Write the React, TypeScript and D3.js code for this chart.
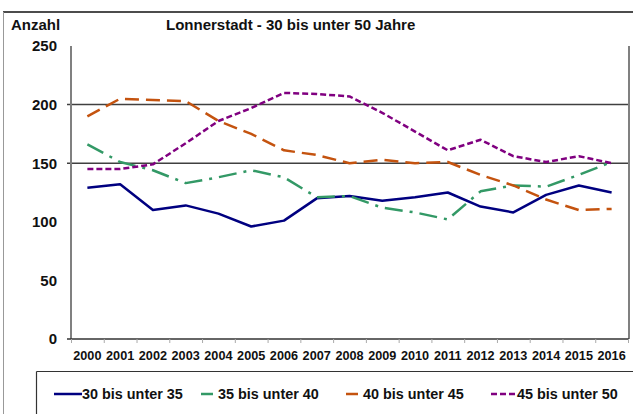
import React from "react";
import * as d3 from "d3";

const years = ["2000","2001","2002","2003","2004","2005","2006","2007","2008","2009","2010","2011","2012","2013","2014","2015","2016"];
const s30 = [129, 132, 110, 114, 107, 96, 101, 120, 122, 118, 121, 125, 113, 108, 123, 131, 125];
const s35 = [166, 151, 144, 133, 138, 144, 138, 121, 122, 112, 108, 102, 126, 131, 130, 140, 151];
const s40 = [190, 205, 204, 203, 186, 175, 161, 157, 150, 153, 150, 151, 140, 131, 119, 110, 111];
const s45 = [145, 145, 149, 167, 186, 197, 210, 209, 207, 193, 177, 161, 170, 156, 151, 156, 150];
const yTicks = [0, 50, 100, 150, 200, 250];
const gridValues = [150, 200];
const seriesNames = ["30 bis unter 35", "35 bis unter 40", "40 bis unter 45", "45 bis unter 50"];
const title = "Lonnerstadt - 30 bis unter 50 Jahre";
const yTitle = "Anzahl";

const W = 633, H = 414;
const FONT = "'Liberation Sans', Arial, Helvetica, sans-serif";

const styles = [
  { color: "#000080", dash: "none" },
  { color: "#339966", dash: "18,7,3,7" },
  { color: "#c4530f", dash: "14,7" },
  { color: "#800080", dash: "6,3" },
];
const legendLayout = [
  { x1: 54, x2: 82, tx: 82 },
  { x1: 201, x2: 213, tx: 218 },
  { x1: 346, x2: 358, tx: 363 },
  { x1: 491, x2: 516, tx: 517 },
];

export default function App() {
  const x = d3.scaleBand<string>().domain(years).range([71, 628]).padding(0);
  const y = d3.scaleLinear().domain([0, 250]).range([339, 46]);
  const cx = (yr: string) => (x(yr) as number) + x.bandwidth() / 2;
  const line = d3
    .line<number>()
    .x((_, i) => cx(years[i]))
    .y((v) => y(v));
  const all = [s30, s35, s40, s45];
  const boundaries = years.map((yr) => x(yr) as number).concat([628]);

  return (
    <svg width={W} height={H} style={{ position: "absolute", left: 0, top: 0, background: "#fff" }}>
      <rect x={0} y={0} width={W} height={H} fill="#fff" />
      {/* outer frame */}
      <line x1={3} x2={W} y1={12} y2={12} stroke="#111" strokeWidth={1.5} />
      <line x1={3.5} x2={3.5} y1={12} y2={H} stroke="#999" strokeWidth={1} />
      {/* texts */}
      <text x={11} y={30} fontFamily={FONT} fontWeight="bold" fontSize={15} fill="#111">{yTitle}</text>
      <text x={166} y={30} fontFamily={FONT} fontWeight="bold" fontSize={15} fill="#111">{title}</text>
      {/* gridlines */}
      {gridValues.map((v) => (
        <line key={v} x1={67} x2={629} y1={y(v)} y2={y(v)} stroke="#404040" strokeWidth={1.5} />
      ))}
      {/* axes */}
      <line x1={71} x2={71} y1={46} y2={339} stroke="#808080" strokeWidth={2} />
      <line x1={629} x2={629} y1={46} y2={339} stroke="#808080" strokeWidth={2} />
      <line x1={67} x2={629} y1={339} y2={339} stroke="#333" strokeWidth={1.5} />
      {boundaries.map((bx, i) => (
        <line key={i} x1={bx + 0.5} x2={bx + 0.5} y1={339} y2={343} stroke="#aaa" strokeWidth={1} />
      ))}
      {yTicks.map((v) => (
        <text key={v} x={57} y={y(v)} dy="0.36em" textAnchor="end" fontFamily={FONT} fontWeight="bold" fontSize={15} fill="#111">{v}</text>
      ))}
      {years.map((yr) => (
        <text key={yr} x={cx(yr)} y={360} textAnchor="middle" fontFamily={FONT} fontWeight="bold" fontSize={12.7} fill="#111">{yr}</text>
      ))}
      {/* series */}
      {all.map((s, i) => (
        <path key={i} d={line(s) || ""} fill="none" stroke={styles[i].color} strokeWidth={2.5}
          strokeDasharray={styles[i].dash} strokeLinejoin="round" />
      ))}
      {/* legend */}
      <line x1={36.5} x2={W} y1={371.5} y2={371.5} stroke="#333" strokeWidth={1.2} />
      <line x1={36.5} x2={36.5} y1={371.5} y2={H} stroke="#333" strokeWidth={1.2} />
      {seriesNames.map((n, i) => (
        <g key={n}>
          <line x1={legendLayout[i].x1} x2={legendLayout[i].x2} y1={394} y2={394} stroke={styles[i].color}
            strokeWidth={2.5} strokeDasharray={i === 3 ? "6,3" : "none"} />
          <text x={legendLayout[i].tx} y={399} fontFamily={FONT} fontWeight="bold" fontSize={14.4} fill="#111">{n}</text>
        </g>
      ))}
    </svg>
  );
}
